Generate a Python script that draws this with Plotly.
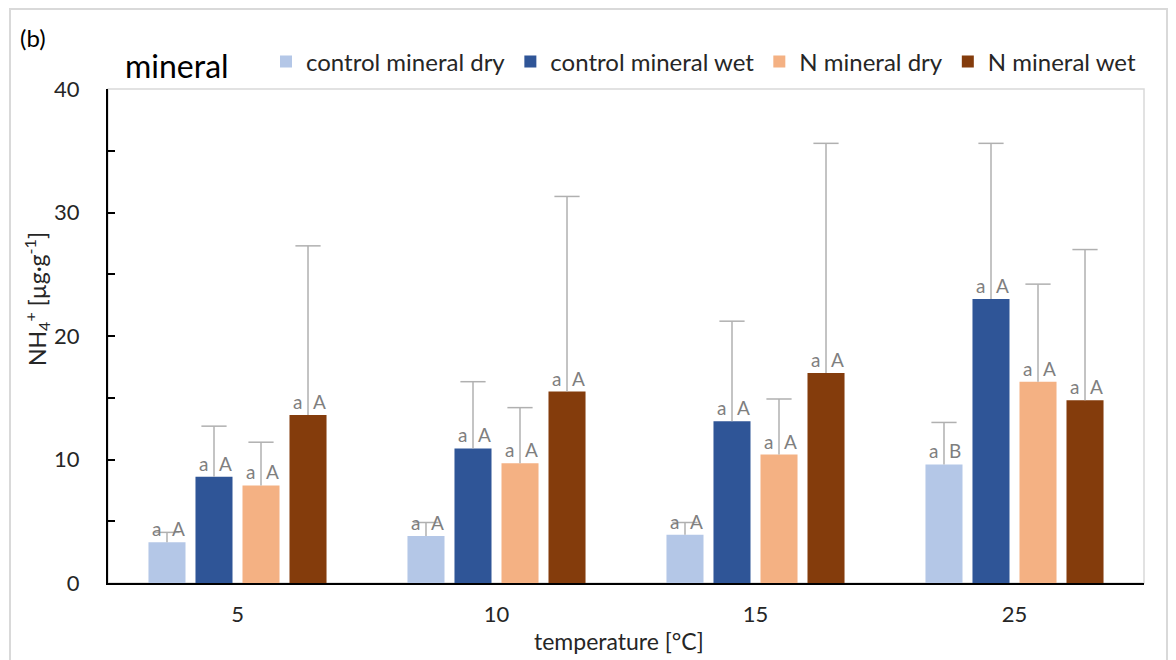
import plotly.graph_objects as go

# ---- data ----
categories = ["5", "10", "15", "25"]
series_names = ["control mineral dry", "control mineral wet", "N mineral dry", "N mineral wet"]

ctrl_dry = [3.3, 3.8, 3.9, 9.6]
ctrl_wet = [8.6, 10.9, 13.1, 23.0]
n_dry = [7.9, 9.7, 10.4, 16.3]
n_wet = [13.6, 15.5, 17.0, 14.8]

ctrl_dry_err = [0.8, 1.1, 1.0, 3.4]
ctrl_wet_err = [4.1, 5.4, 8.1, 12.6]
n_dry_err = [3.5, 4.5, 4.5, 7.9]
n_wet_err = [13.7, 15.8, 18.6, 12.2]

lower_letters = [["a", "a", "a", "a"], ["a", "a", "a", "a"], ["a", "a", "a", "a"], ["a", "a", "a", "a"]]
upper_letters = [["A", "A", "A", "B"], ["A", "A", "A", "A"], ["A", "A", "A", "A"], ["A", "A", "A", "A"]]

values = [ctrl_dry, ctrl_wet, n_dry, n_wet]
errors = [ctrl_dry_err, ctrl_wet_err, n_dry_err, n_wet_err]
colors = ["#b4c7e7", "#2f5597", "#f4b183", "#843c0c"]

# ---- layout geometry ----
W, H = 1176, 660
ML, MR, MT, MB = 108, 32, 89, 77
PW, PH = W - ML - MR, H - MT - MB

bar_w = 0.143
pitch = 0.1815
centers = [(k - 1.5) * pitch for k in range(4)]

FONT = "Lato, Calibri, Carlito, sans-serif"
ERR_COLOR = "#b0b0b0"
pos = list(range(len(categories)))

fig = go.Figure()
for k in range(4):
    fig.add_trace(go.Bar(
        x=pos, y=values[k], name=series_names[k],
        offset=centers[k] - bar_w / 2, width=bar_w,
        marker=dict(color=colors[k], line=dict(width=0)),
        hoverinfo="x+y",
    ))

# one-sided (upper) error bars: stem + cap drawn at the top only
for k in range(4):
    xs = [j + centers[k] for j in pos]
    tops = [v + e for v, e in zip(values[k], errors[k])]
    fig.add_trace(go.Scatter(
        x=xs, y=tops, mode="markers", showlegend=False, hoverinfo="skip",
        marker=dict(symbol="line-ew-open", size=18, color=ERR_COLOR,
                    line=dict(color=ERR_COLOR, width=1.5)),
        error_y=dict(type="data", symmetric=False, array=[0] * len(pos),
                     arrayminus=errors[k], color=ERR_COLOR, thickness=1.5, width=0),
    ))

LET_FONT = dict(family=FONT, size=19, color="#7f7f7f")
annotations = []
for k in range(4):
    for j in pos:
        xc = j + centers[k]
        annotations.append(dict(x=xc, y=values[k][j], xref="x", yref="y",
                                text=lower_letters[k][j], showarrow=False,
                                xanchor="right", yanchor="bottom", xshift=-4, yshift=0,
                                font=LET_FONT))
        annotations.append(dict(x=xc, y=values[k][j], xref="x", yref="y",
                                text=upper_letters[k][j], showarrow=False,
                                xanchor="left", yanchor="bottom", xshift=3, yshift=0,
                                font=LET_FONT))

def px(xp):
    return (xp - ML) / PW

def py(yp):
    return (H - MB - yp) / PH

annotations += [
    dict(x=px(18), y=py(38), xref="paper", yref="paper", text="(b)", showarrow=False,
         xanchor="left", yanchor="middle", font=dict(family=FONT, size=24, color="#000000")),
    dict(x=px(123), y=py(65), xref="paper", yref="paper", text="mineral", showarrow=False,
         xanchor="left", yanchor="middle", font=dict(family=FONT, size=32, color="#000000")),
    dict(x=px(36), y=py(299), xref="paper", yref="paper",
         text="NH<sub>4</sub><sup>+</sup> [µg·g<sup>-1</sup>]", showarrow=False,
         textangle=-90, xanchor="center", yanchor="middle",
         font=dict(family=FONT, size=23, color="#262626")),
    dict(x=px(619), y=py(641), xref="paper", yref="paper", text="temperature [°C]",
         showarrow=False, xanchor="center", yanchor="middle",
         font=dict(family=FONT, size=23, color="#262626")),
]

shapes = [
    dict(type="rect", xref="paper", yref="paper", x0=0, x1=1, y0=0, y1=1,
         line=dict(color="#d9d9d9", width=1.5), layer="below"),
    dict(type="rect", xref="paper", yref="paper", x0=px(10), x1=px(1167), y0=py(700), y1=py(9),
         line=dict(color="#d9d9d9", width=2), layer="below"),
]

fig.update_layout(
    width=W, height=H, autosize=False,
    margin=dict(l=ML, r=MR, t=MT, b=MB, pad=0),
    paper_bgcolor="white", plot_bgcolor="white",
    barmode="overlay",
    font=dict(family=FONT, color="#262626"),
    showlegend=True,
    legend=dict(orientation="h", x=px(266), xanchor="left", y=py(62), yanchor="middle",
                font=dict(family=FONT, size=24, color="#262626"),
                itemwidth=30, bgcolor="rgba(0,0,0,0)", traceorder="normal"),
    xaxis=dict(range=[-0.5, 3.5], tickvals=pos, ticktext=categories, ticks="",
               showline=True, linecolor="#000000", linewidth=2, showgrid=False,
               zeroline=False, tickfont=dict(family=FONT, size=22, color="#262626"),
               ticklabelstandoff=11, fixedrange=True),
    yaxis=dict(range=[0, 40], tickvals=[0, 10, 20, 30, 40], ticks="inside", ticklen=7,
               tickwidth=1.5, tickcolor="#000000",
               minor=dict(tickvals=[5, 15, 25, 35], ticks="inside", ticklen=7, tickwidth=1.5,
                          tickcolor="#000000"),
               showline=True, linecolor="#000000", linewidth=2, showgrid=False,
               zeroline=False, tickfont=dict(family=FONT, size=22, color="#262626"),
               ticklabelstandoff=22),
    annotations=annotations,
    shapes=shapes,
)

fig.write_html("out.html")
